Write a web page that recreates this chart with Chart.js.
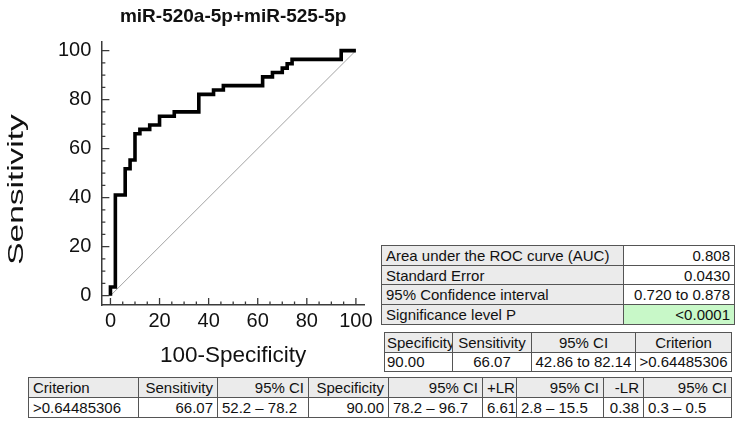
<!DOCTYPE html>
<html>
<head>
<meta charset="utf-8">
<script src="https://cdn.jsdelivr.net/npm/chart.js@4/dist/chart.umd.min.js"></script>
<style>
  html, body { margin: 0; padding: 0; background: #fff; }
  #wrap { position: relative; width: 738px; height: 422px; overflow: hidden; background: #fff;
          font-family: "Liberation Sans", Arial, Helvetica, sans-serif; color: #111; }
  #roc { position: absolute; left: 0; top: 0; }
  table { position: absolute; border-collapse: collapse; table-layout: fixed; font-size: 15px; }
  td { border: 1px solid #555; padding: 0 4px; white-space: nowrap; overflow: hidden; line-height: 17px; }
  #t2 td { padding: 0 2px; }
  .g { background: #ebebeb; }
  .w { background: #fff; }
  .p { background: #c8f8c8; }
  .r { text-align: right; }
  .c { text-align: center; }
  .l { text-align: left; }
</style>
</head>
<body>
<div id="wrap">
  <canvas id="roc" width="377" height="370"></canvas>

  <table id="t1" style="left:381px; top:245px; width:353px;">
    <colgroup><col style="width:242px"><col style="width:111px"></colgroup>
    <tbody></tbody>
  </table>
  <table id="t2" style="left:384px; top:332px; width:347px;">
    <colgroup><col style="width:68px"><col style="width:79px"><col style="width:104px"><col style="width:96px"></colgroup>
    <tbody></tbody>
  </table>
  <table id="t3" style="left:28px; top:377px; width:703px;">
    <colgroup><col style="width:110px"><col style="width:79px"><col style="width:91px"><col style="width:80px"><col style="width:94px"><col style="width:34px"><col style="width:87px"><col style="width:40px"><col style="width:88px"></colgroup>
    <tbody></tbody>
  </table>
</div>
<script>
// ---- ROC data (100-Specificity vs Sensitivity) ----
const fpr = [0, 0, 2, 6, 8, 10, 12, 16, 20, 26, 36, 42, 46, 62, 66, 70, 72, 74, 94, 100];
const tpr = [0, 3.57, 41.07, 51.79, 55.36, 66.07, 67.86, 69.64, 73.21, 75.00, 82.14, 83.93, 85.71, 89.29, 91.07, 92.86, 94.64, 96.43, 100, 100];
const diagX = [0, 100];
const diagY = [0, 100];
const majorTicks = [0, 20, 40, 60, 80, 100];
const minorTicks = [5, 10, 15, 25, 30, 35, 45, 50, 55, 65, 70, 75, 85, 90, 95];
const chartTitle = 'miR-520a-5p+miR-525-5p';
const xTitle = '100-Specificity';
const yTitle = 'Sensitivity';

// ---- table texts ----
const aucLabels = ['Area under the ROC curve (AUC)', 'Standard Error', '95% Confidence interval', 'Significance level P'];
const aucValues = ['0.808', '0.0430', '0.720 to 0.878', '<0.0001'];
const cutHeader = ['Specificity', 'Sensitivity', '95% CI', 'Criterion'];
const cutValues = ['90.00', '66.07', '42.86 to 82.14', '>0.64485306'];
const critHeader = ['Criterion', 'Sensitivity', '95% CI', 'Specificity', '95% CI', '+LR', '95% CI', '-LR', '95% CI'];
const critValues = ['>0.64485306', '66.07', '52.2 \u2013 78.2', '90.00', '78.2 \u2013 96.7', '6.61', '2.8 \u2013 15.5', '0.38', '0.3 \u2013 0.5'];

function addRow(tbody, cells, classes, h) {
  const tr = document.createElement('tr');
  tr.style.height = h + 'px';
  cells.forEach((t, i) => {
    const td = document.createElement('td');
    td.textContent = t;
    td.className = classes[i];
    tr.appendChild(td);
  });
  tbody.appendChild(tr);
}
const t1 = document.querySelector('#t1 tbody');
aucLabels.forEach((lab, i) => addRow(t1, [lab, aucValues[i]], ['g l', (i === 3 ? 'p' : 'w') + ' r'], 19.7));
const t2 = document.querySelector('#t2 tbody');
addRow(t2, cutHeader, ['g l', 'g c', 'g c', 'g c'], 19.5);
addRow(t2, cutValues, ['w l', 'w c', 'w c', 'w c'], 19.5);
const t3 = document.querySelector('#t3 tbody');
addRow(t3, critHeader, ['g l', 'g r', 'g r', 'g r', 'g r', 'g r', 'g r', 'g r', 'g r'], 20);
addRow(t3, critValues, ['w l', 'w r', 'w l', 'w r', 'w l', 'w r', 'w l', 'w r', 'w l'], 20);

const fontFam = '"Liberation Sans", Arial, Helvetica, sans-serif';

// ---- inward tick marks + stretched y-axis title (drawn through the chart's own scales) ----
const innerTicks = {
  id: 'innerTicks',
  afterDatasetsDraw(chart) {
    const ctx = chart.ctx;
    const xs = chart.scales.x, ys = chart.scales.y;
    const area = chart.chartArea;
    ctx.save();
    ctx.strokeStyle = '#3a3a3a';
    ctx.lineWidth = 1.3;
    ctx.beginPath();
    const draw = (vals, len) => {
      vals.forEach(v => {
        const px = xs.getPixelForValue(v);
        ctx.moveTo(px, area.bottom);
        ctx.lineTo(px, area.bottom - len.x);
        const py = ys.getPixelForValue(v);
        ctx.moveTo(area.left, py);
        ctx.lineTo(area.left + len.y, py);
      });
    };
    draw(majorTicks, {x: 7, y: 8});
    draw(minorTicks, {x: 3.5, y: 4});
    ctx.stroke();
    ctx.restore();
  },
  afterDraw(chart) {
    const ctx = chart.ctx;
    const area = chart.chartArea;
    ctx.save();
    ctx.translate(17, (area.top + area.bottom) / 2 + 16);
    ctx.rotate(-Math.PI / 2);
    ctx.scale(1.52, 1);
    ctx.font = '22px ' + fontFam;
    ctx.fillStyle = '#111';
    ctx.textAlign = 'center';
    ctx.textBaseline = 'middle';
    ctx.fillText(yTitle, 0, 0);
    ctx.restore();
  }
};

const setTicks = (scale) => { scale.ticks = majorTicks.map(v => ({value: v})); };

new Chart(document.getElementById('roc'), {
  type: 'line',
  data: {
    datasets: [
      {
        data: fpr.map((x, i) => ({x: x, y: tpr[i]})),
        borderColor: '#000',
        borderWidth: 3.6,
        stepped: 'before',
        pointRadius: 0,
        fill: false,
        borderJoinStyle: 'miter',
        borderCapStyle: 'butt'
      },
      {
        data: diagX.map((x, i) => ({x: x, y: diagY[i]})),
        borderColor: '#8c8c8c',
        borderWidth: 0.8,
        pointRadius: 0,
        fill: false
      }
    ]
  },
  options: {
    responsive: false,
    animation: false,
    layout: { padding: { left: 48, right: 0, top: 0, bottom: 0 } },
    plugins: {
      legend: { display: false },
      tooltip: { enabled: false },
      title: {
        display: true,
        text: chartTitle,
        fullSize: false,
        color: '#111',
        font: { family: fontFam, size: 19, weight: 'bold' },
        padding: { top: 5, bottom: 14.2 }
      }
    },
    scales: {
      x: {
        type: 'linear',
        min: -3.7, max: 103.7,
        afterBuildTicks: setTicks,
        grid: { display: true, drawOnChartArea: false, drawTicks: false },
        border: { display: true, color: '#3a3a3a', width: 1.5 },
        ticks: { color: '#111', padding: 4, font: { family: fontFam, size: 20 }, maxRotation: 0 },
        title: { display: true, text: xTitle, color: '#111', font: { family: fontFam, size: 22.5 }, padding: { top: 5, bottom: 1 } }
      },
      y: {
        type: 'linear',
        min: -3.8, max: 103.5,
        afterBuildTicks: setTicks,
        grid: { display: true, drawOnChartArea: false, drawTicks: false },
        border: { display: true, color: '#3a3a3a', width: 1.5 },
        ticks: { color: '#111', padding: 10, font: { family: fontFam, size: 20 } },
        title: { display: false }
      }
    }
  },
  plugins: [innerTicks]
});
</script>
</body>
</html>
